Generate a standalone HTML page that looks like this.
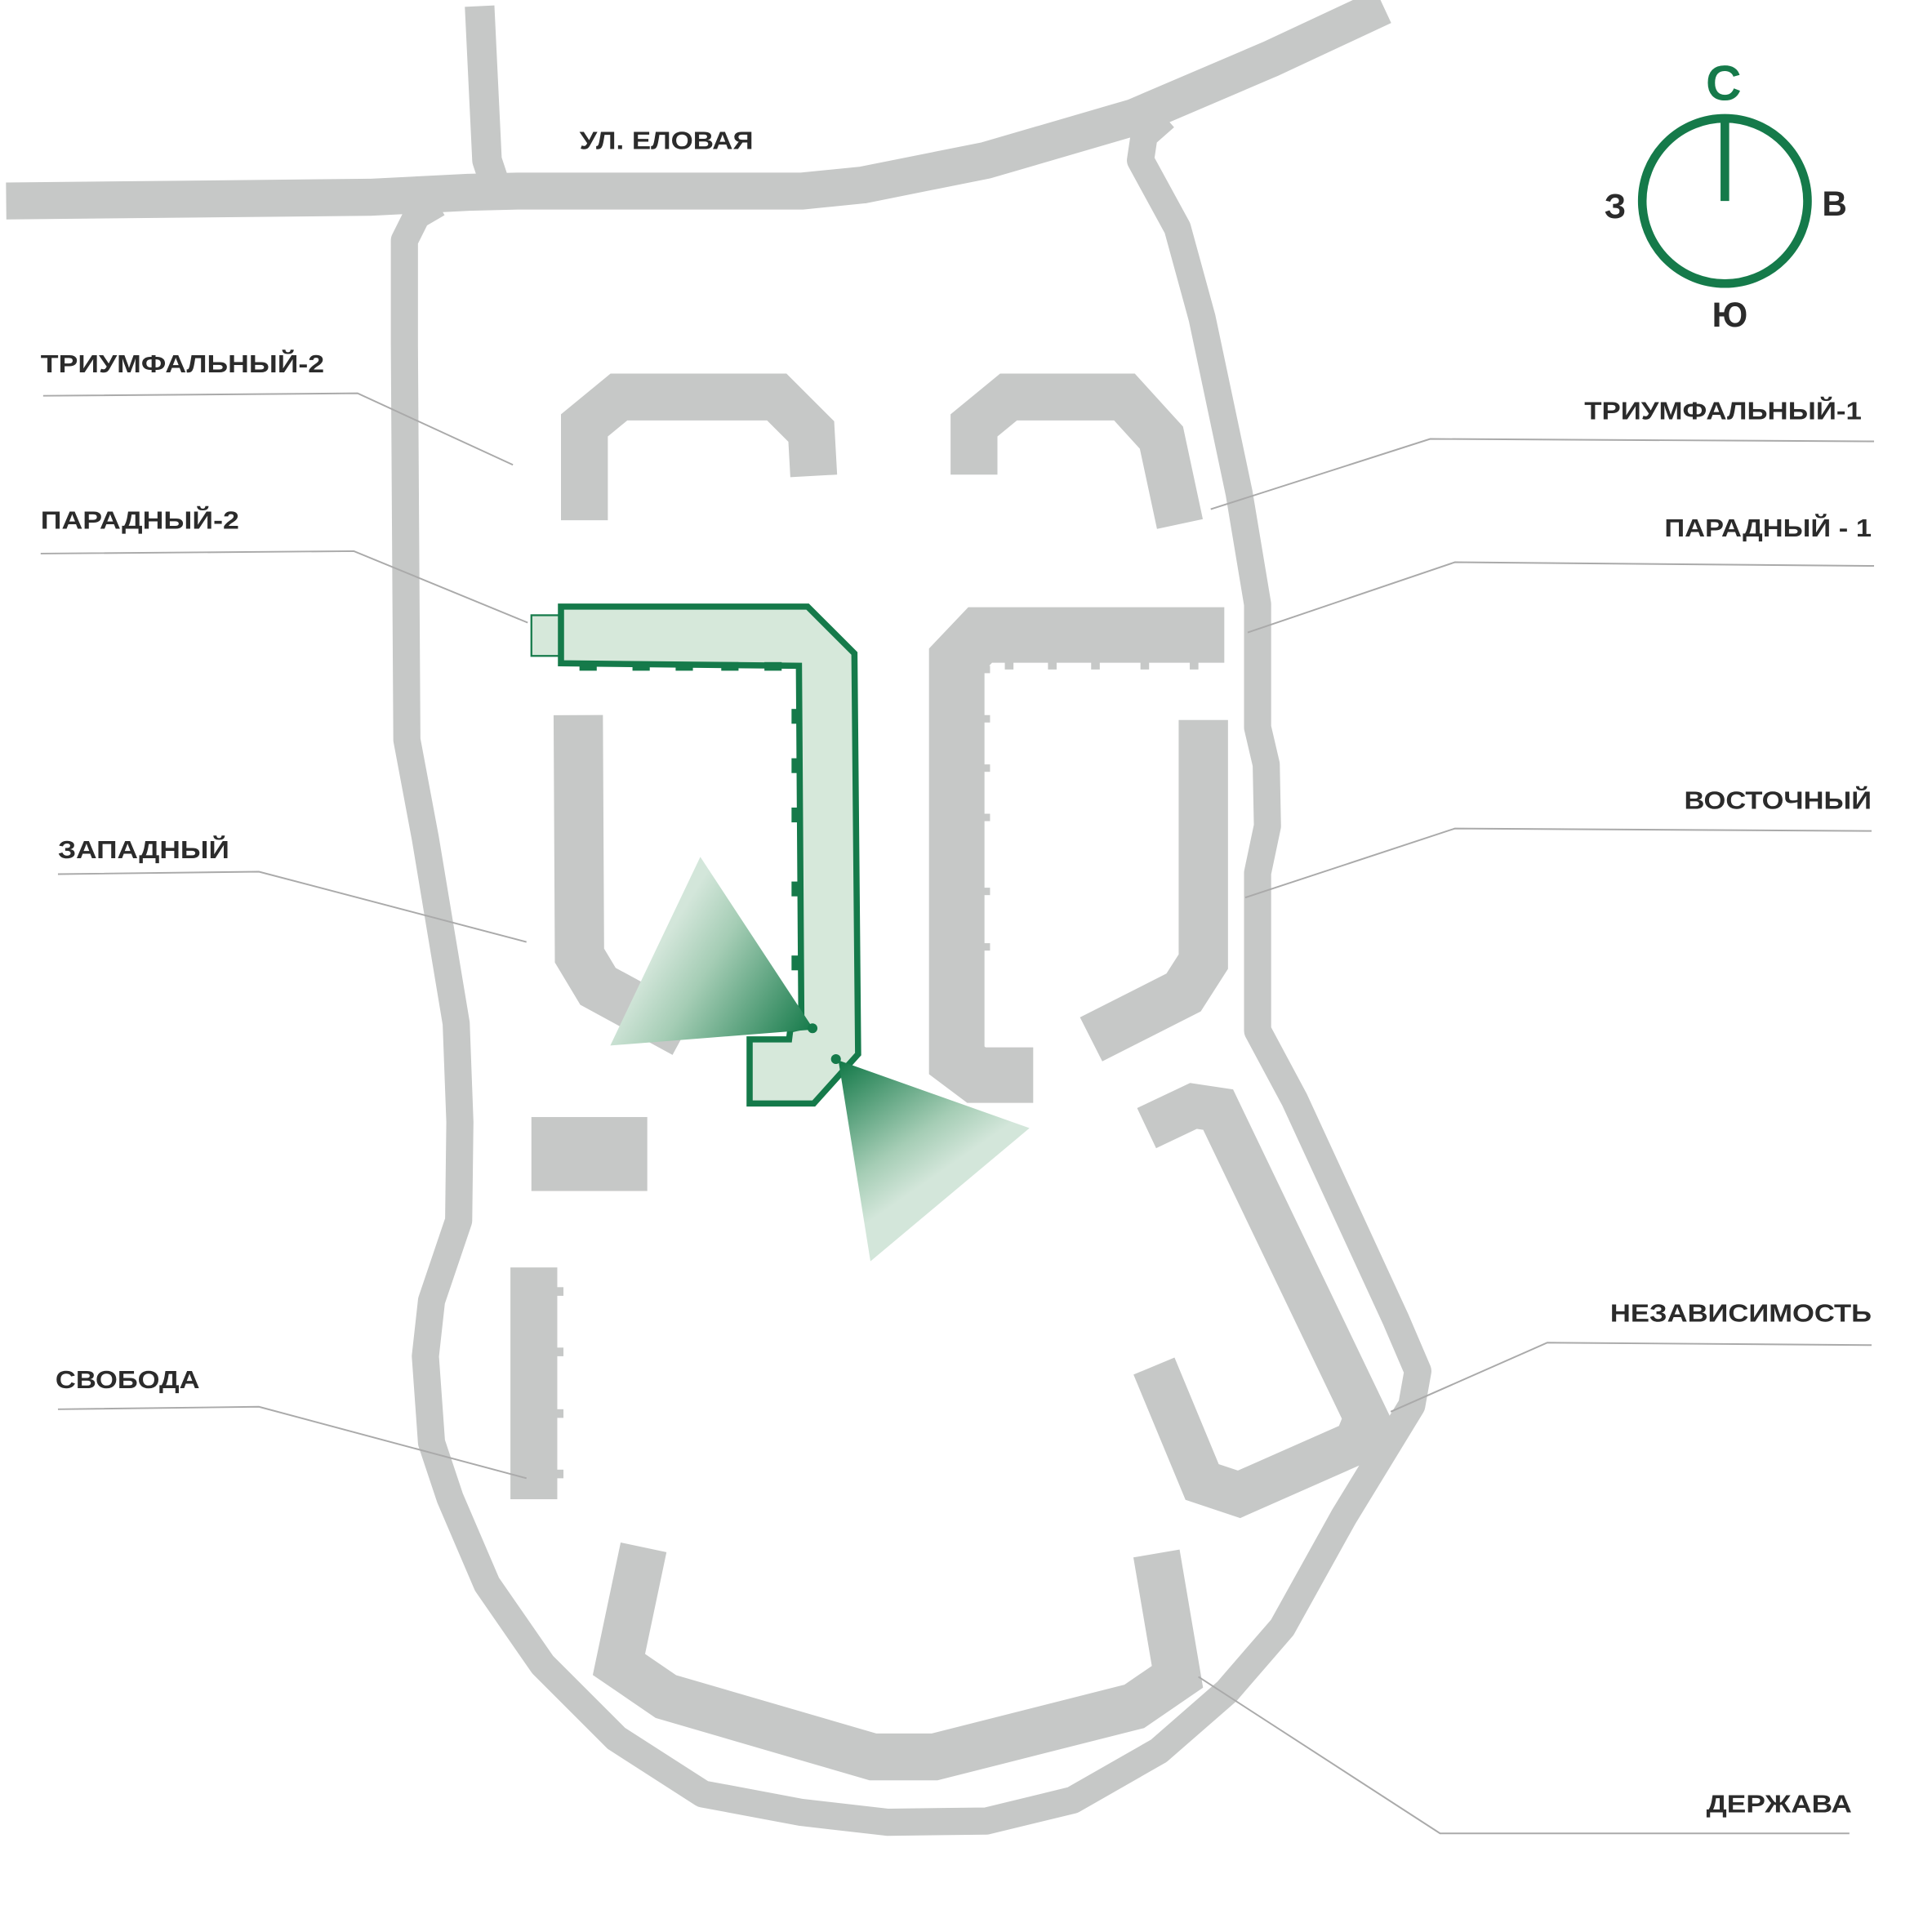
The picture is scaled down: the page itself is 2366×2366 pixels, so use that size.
<!DOCTYPE html>
<html><head><meta charset="utf-8">
<style>
html,body{margin:0;padding:0;background:#fff;}
svg{display:block;}
text{font-family:"Liberation Sans",sans-serif;font-weight:bold;fill:#2b2b2b;}
</style></head>
<body>
<svg width="2366" height="2366" viewBox="0 0 1567 1567" xmlns="http://www.w3.org/2000/svg">
<defs>
<linearGradient id="g1" x1="660" y1="835" x2="540" y2="760" gradientUnits="userSpaceOnUse">
<stop offset="0" stop-color="#157a4a"/><stop offset="0.7" stop-color="#a5cdb5"/><stop offset="1" stop-color="#d3e6da"/>
</linearGradient>
<linearGradient id="g2" x1="682" y1="862" x2="750" y2="960" gradientUnits="userSpaceOnUse">
<stop offset="0" stop-color="#157a4a"/><stop offset="0.7" stop-color="#a5cdb5"/><stop offset="1" stop-color="#d3e6da"/>
</linearGradient>
</defs>
<g fill="none" stroke="#c6c8c7" stroke-linejoin="round">
<polyline stroke-width="30" points="5,163 300,160 380,156 420,155 650,155 700,150 800,130 920,95 1030,48 1122,5"/>
<polyline stroke-width="24" points="389,5 395,130 400,145"/>
<polyline stroke-width="22" points="355,165 338,175 328,195 328,280 330,600 345,680 370,830 373,910 372,990 350,1055 345,1100 350,1170 365,1215 395,1285 440,1350 500,1410 570,1455 650,1470 720,1478 800,1477 870,1460 940,1420 995,1372 1040,1320 1090,1230 1145,1140 1150,1112 1132,1070 1050,892 1020,836 1020,708 1028,670 1027,620 1020,590 1020,490 1005,400 975,258 955,185 925,130 928,110 945,95"/>
<polyline stroke-width="38" stroke-linejoin="miter" points="474,422 474,345 502,322 630,322 658,350 660,386"/>
<polyline stroke-width="38" stroke-linejoin="miter" points="790,385 790,345 818,322 912,322 942,355 957,425"/>
<polyline stroke-width="45" stroke-linejoin="miter" points="993,515 795,515 776,535 776,860 792,872 838,872"/>
<polyline stroke-width="40" stroke-linejoin="miter" points="976,584 976,780 960,805 885,843"/>
<polyline stroke-width="40" stroke-linejoin="miter" points="469,580 470,775 485,800 555,838"/>
<polyline stroke-width="36" stroke-linejoin="miter" points="930,915 968,897 988,900 1108,1150 1100,1170 1005,1212 975,1202 936,1108"/>
<polyline stroke-width="38" stroke-linejoin="miter" points="522,1255 502,1350 540,1376 708,1425 758,1425 920,1384 955,1360 938,1260"/>
</g>
<g fill="#c6c8c7">
<rect x="431" y="906" width="94" height="60"/>
<rect x="414" y="1028" width="38" height="188"/>
<rect x="450" y="1044" width="7" height="7"/><rect x="450" y="1093" width="7" height="7"/><rect x="450" y="1143" width="7" height="7"/><rect x="450" y="1192" width="7" height="7"/>
<rect x="797" y="540" width="6" height="6"/><rect x="797" y="580" width="6" height="6"/><rect x="797" y="620" width="6" height="6"/><rect x="797" y="660" width="6" height="6"/><rect x="797" y="720" width="6" height="6"/><rect x="797" y="765" width="6" height="6"/>
<rect x="815" y="537" width="7" height="6"/><rect x="850" y="537" width="7" height="6"/><rect x="885" y="537" width="7" height="6"/><rect x="925" y="537" width="7" height="6"/><rect x="965" y="537" width="7" height="6"/>
</g>
<rect x="431" y="499" width="23" height="33" fill="#d6e8da" stroke="#157a4a" stroke-width="1.5"/>
<polygon points="455,492 655,492 693,530 696,855 660,895 608,895 608,843 640,843 641,835 650,833 648,540 455,538" fill="#d6e8da" stroke="#157a4a" stroke-width="5"/>
<g fill="#157a4a">
<rect x="470" y="537" width="14" height="7"/><rect x="513" y="537" width="14" height="7"/><rect x="548" y="537" width="14" height="7"/><rect x="585" y="537" width="14" height="7"/><rect x="620" y="537" width="14" height="7"/>
<rect x="642" y="575" width="8" height="12"/><rect x="642" y="615" width="8" height="12"/><rect x="642" y="655" width="8" height="12"/><rect x="642" y="715" width="8" height="12"/><rect x="642" y="775" width="8" height="12"/>
</g>
<polygon points="568,695 495,848 660,835" fill="url(#g1)"/>
<polygon points="680,860 835,915 706,1023" fill="url(#g2)"/>
<circle cx="659" cy="834" r="4" fill="#157a4a"/>
<circle cx="678" cy="859" r="4" fill="#157a4a"/>
<circle cx="1399" cy="163" r="67" fill="none" stroke="#157a4a" stroke-width="7"/>
<line x1="1399" y1="96" x2="1399" y2="163" stroke="#157a4a" stroke-width="7"/>
<text x="1398" y="81" font-size="40" text-anchor="middle" style="fill:#157a4a">С</text>
<text x="1310" y="177" font-size="28" text-anchor="middle">З</text>
<text x="1488" y="175" font-size="28" text-anchor="middle">В</text>
<text x="1403" y="265" font-size="28" text-anchor="middle">Ю</text>
<g fill="none" stroke="#aaaaaa" stroke-width="1.3">
<polyline points="35,321 290,319 416,377"/>
<polyline points="33,449 287,447 428,505"/>
<polyline points="47,709 210,707 427,764"/>
<polyline points="47,1143 210,1141 427,1199"/>
<polyline points="1520,358 1160,356 982,413"/>
<polyline points="1520,459 1180,456 1012,513"/>
<polyline points="1518,674 1180,672 1010,728"/>
<polyline points="1518,1091 1255,1089 1128,1145"/>
<polyline points="1500,1487 1168,1487 972,1360"/>
</g>
<g font-size="20">
<text x="470" y="121" textLength="141" lengthAdjust="spacingAndGlyphs">УЛ. ЕЛОВАЯ</text>
<text x="33" y="302" textLength="230" lengthAdjust="spacingAndGlyphs">ТРИУМФАЛЬНЫЙ-2</text>
<text x="33" y="429" textLength="161" lengthAdjust="spacingAndGlyphs">ПАРАДНЫЙ-2</text>
<text x="47" y="696" textLength="139" lengthAdjust="spacingAndGlyphs">ЗАПАДНЫЙ</text>
<text x="45" y="1126" textLength="117" lengthAdjust="spacingAndGlyphs">СВОБОДА</text>
<text x="1285" y="340" textLength="225" lengthAdjust="spacingAndGlyphs">ТРИУМФАЛЬНЫЙ-1</text>
<text x="1350" y="435" textLength="168" lengthAdjust="spacingAndGlyphs">ПАРАДНЫЙ - 1</text>
<text x="1366" y="656" textLength="152" lengthAdjust="spacingAndGlyphs">ВОСТОЧНЫЙ</text>
<text x="1306" y="1072" textLength="212" lengthAdjust="spacingAndGlyphs">НЕЗАВИСИМОСТЬ</text>
<text x="1384" y="1470" textLength="118" lengthAdjust="spacingAndGlyphs">ДЕРЖАВА</text>
</g>
</svg>
</body></html>
